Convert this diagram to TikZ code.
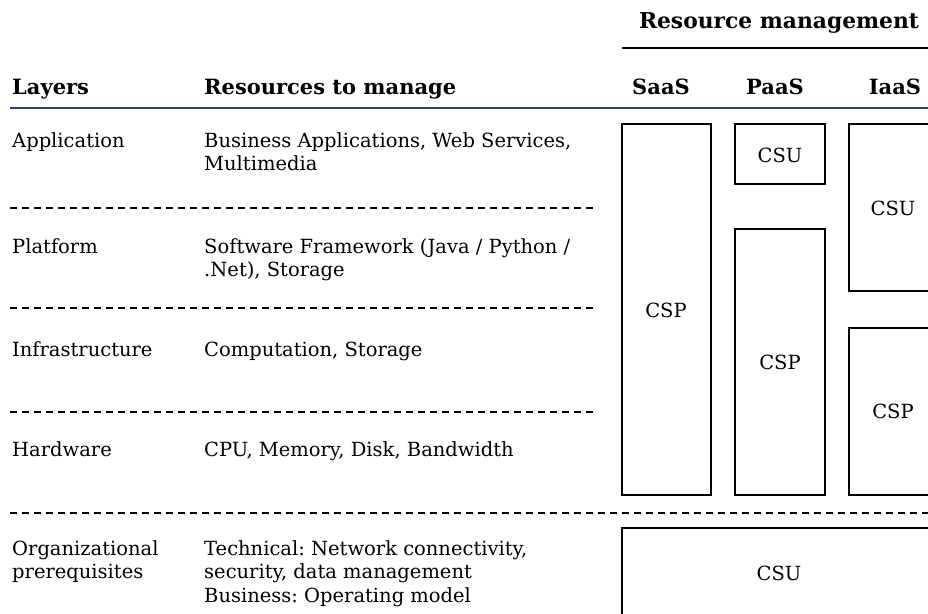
\documentclass[tikz,border=0pt]{standalone}
\usepackage{fontspec}
\setmainfont{DejaVu Serif}
\newcommand{\lines}[1]{\begin{tabular}[t]{@{}l@{}}#1\end{tabular}}
\frenchspacing
\begin{document}
\begin{tikzpicture}[x=1pt,y=-1pt,
  txt/.style={anchor=base west,inner sep=0pt,font=\fontsize{19.5}{23.5}\selectfont},
  hdr/.style={anchor=base west,inner sep=0pt,font=\fontsize{21}{24}\selectfont\bfseries},
  lbl/.style={inner sep=0pt,font=\fontsize{19.5}{23.5}\selectfont},
  sep/.style={line width=1.5pt,dash pattern=on 7pt off 5pt},
  box/.style={line width=1.5pt}]
\useasboundingbox (0,0) rectangle (928,613);
\clip (0,0) rectangle (928,613);
\renewcommand{\arraystretch}{1}
\setlength{\tabcolsep}{0pt}
% headers
\node[hdr,anchor=base,font=\fontsize{21.8}{24}\selectfont\bfseries] (rm) at (779,28) {Resource management};
\draw[line width=2pt] (622,48) -- (928,48);
\node[hdr] (hl) at (12,94) {Layers};
\node[hdr] (hr) at (204,94) {Resources to manage};
\node[hdr,anchor=base] (hs) at (661,94) {SaaS};
\node[hdr,anchor=base] (hp) at (775,94) {PaaS};
\node[hdr,anchor=base] (hi) at (895,94) {IaaS};
\draw[line width=2.5pt,color={rgb,255:red,31;green,73;blue,125}] (10,108) -- (928,108);
% rows
\node[txt] (l1) at (12,147) {Application};
\node[txt] (r1) at (204,147) {\lines{Business Applications, Web Services,\\Multimedia}};
\draw[sep] (10,208) -- (598,208);
\node[txt] (l2) at (12,253) {Platform};
\node[txt] (r2) at (204,253) {\lines{Software Framework (Java / Python /\\.Net), Storage}};
\draw[sep] (10,308) -- (598,308);
\node[txt] (l3) at (12,356) {Infrastructure};
\node[txt] (r3) at (204,356) {Computation, Storage};
\draw[sep] (10,412) -- (598,412);
\node[txt] (l4) at (12,456) {Hardware};
\node[txt] (r4) at (204,456) {CPU, Memory, Disk, Bandwidth};
\draw[sep] (10,513) -- (928,513);
\node[txt] (l5) at (12,555) {\lines{Organizational\\prerequisites}};
\node[txt] (r5) at (204,555) {\lines{Technical: Network connectivity,\\security, data management\\Business: Operating model}};
% boxes
\draw[box] (622,124) rectangle (711,495);
\node[lbl] (saascsp) at (666,310) {CSP};
\draw[box] (735,124) rectangle (825,184);
\node[lbl] (paascsu) at (780,155) {CSU};
\draw[box] (735,229) rectangle (825,495);
\node[lbl] (paascsp) at (780,362) {CSP};
\draw[box] (849,124) rectangle (960,291);
\node[lbl] (iaascsu) at (893,208) {CSU};
\draw[box] (849,328) rectangle (960,495);
\node[lbl] (iaascsp) at (893,411) {CSP};
\draw[box] (622,640) -- (622,528) -- (960,528);
\node[lbl] (orgcsu) at (779,573) {CSU};
\end{tikzpicture}
\end{document}
